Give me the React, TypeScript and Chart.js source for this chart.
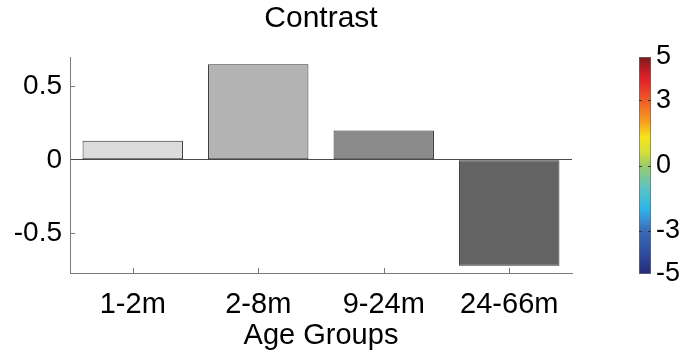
import React, { useEffect, useRef } from "react";
import { Chart, registerables } from "chart.js";

Chart.register(...registerables);

// Bar data
const ageGroups = ["1-2m", "2-8m", "9-24m", "24-66m"];
const contrastValues = [0.13, 0.65, 0.2, -0.72];
const barColors = ["#dcdcdc", "#b3b3b3", "#8a8a8a", "#636363"];

// Value axis
const yTicks = [-0.5, 0, 0.5];
const yMin = -0.77;
const yMax = 0.7;

// Colour scale
const colorbarTicks = [-5, -3, 0, 3, 5];
const colorbarMin = -5;
const colorbarMax = 5;
const jetStops: [number, string][] = [
  [-5, "#252a7a"],
  [-4, "#2e4e9e"],
  [-3, "#3a6cb8"],
  [-2.5, "#3b8fd2"],
  [-2, "#2db6e8"],
  [-1, "#5cc4c0"],
  [0, "#9ccb6a"],
  [0.6, "#d4df3a"],
  [1.3, "#f6e51b"],
  [2, "#f7a01e"],
  [3, "#ef5b25"],
  [4, "#e1202a"],
  [4.5, "#b51d22"],
  [5, "#7a1a1a"],
];

const FONT = "'Liberation Sans', Arial, Helvetica, sans-serif";
const AXIS_GRAY = "#7a7a7a";
const ZERO_LINE = "#4a4a4a";

// Short tick marks pointing into the plot area
const inwardTicks = {
  id: "inwardTicks",
  afterDraw(chart: any) {
    const { ctx, chartArea, scales } = chart;
    ctx.save();
    ctx.strokeStyle = AXIS_GRAY;
    ctx.lineWidth = 1;
    ctx.beginPath();
    scales.y.ticks.forEach((t: any) => {
      if (t.value === 0) return;
      const y = Math.round(scales.y.getPixelForValue(t.value)) + 0.5;
      ctx.moveTo(chartArea.left, y);
      ctx.lineTo(chartArea.left + 5, y);
    });
    ageGroups.forEach((_, i) => {
      const x = Math.round(scales.x.getPixelForValue(i)) + 0.5;
      ctx.moveTo(x, chartArea.bottom);
      ctx.lineTo(x, chartArea.bottom - 5);
    });
    ctx.stroke();
    ctx.restore();
  },
};

// Tick marks on both inner edges of the colour bar
const colorbarTickMarks = {
  id: "colorbarTickMarks",
  afterDraw(chart: any) {
    const { ctx, chartArea, scales } = chart;
    ctx.save();
    ctx.strokeStyle = "#333";
    ctx.lineWidth = 1;
    ctx.beginPath();
    colorbarTicks.forEach((v) => {
      if (v === colorbarMin || v === colorbarMax) return;
      const y = Math.round(scales.y.getPixelForValue(v)) + 0.5;
      ctx.moveTo(chartArea.left, y);
      ctx.lineTo(chartArea.left + 3, y);
      ctx.moveTo(chartArea.right - 3, y);
      ctx.lineTo(chartArea.right, y);
    });
    ctx.stroke();
    ctx.restore();
  },
};

export default function App() {
  const mainRef = useRef<HTMLCanvasElement | null>(null);
  const barRef = useRef<HTMLCanvasElement | null>(null);

  useEffect(() => {
    if (!mainRef.current || !barRef.current) return;

    const main = new Chart(mainRef.current, {
      type: "bar",
      data: {
        labels: ageGroups,
        datasets: [
          {
            data: contrastValues,
            backgroundColor: barColors,
            borderColor: "#2e2e2e",
            borderWidth: 1,
            borderSkipped: false,
            barPercentage: 0.8,
            categoryPercentage: 1,
          },
        ],
      },
      options: {
        responsive: false,
        animation: false,
        layout: { padding: { left: 0, right: 111, top: 4, bottom: 0 } },
        plugins: {
          legend: { display: false },
          tooltip: { enabled: false },
          title: {
            display: true,
            text: "Contrast",
            fullSize: false,
            color: "#000",
            font: { family: FONT, size: 30, weight: "normal", lineHeight: 1 },
            padding: { top: 0, bottom: 23 },
          },
        },
        scales: {
          x: {
            type: "category",
            offset: true,
            grid: { display: false },
            border: { display: true, color: AXIS_GRAY, width: 1 },
            ticks: {
              color: "#000",
              font: { family: FONT, size: 29 },
              padding: 7,
              maxRotation: 0,
              autoSkip: false,
            },
            title: {
              display: true,
              text: "Age Groups",
              color: "#000",
              font: { family: FONT, size: 29, lineHeight: 1 },
              padding: 0,
            },
            afterFit: (s: any) => {
              s.height = 77;
            },
          },
          y: {
            min: yMin,
            max: yMax,
            afterBuildTicks: (s: any) => {
              s.ticks = yTicks.map((v) => ({ value: v }));
            },
            grid: {
              drawTicks: false,
              color: (c: any) =>
                c.tick && c.tick.value === 0 ? ZERO_LINE : "rgba(0,0,0,0)",
              lineWidth: 1,
            },
            border: { display: true, color: AXIS_GRAY, width: 1 },
            ticks: {
              color: "#000",
              font: { family: FONT, size: 28 },
              padding: 8,
              callback: (v: any) => String(v),
            },
            afterFit: (s: any) => {
              s.width = 70;
            },
          },
        },
      },
      plugins: [inwardTicks],
    });

    const bar = new Chart(barRef.current, {
      type: "bar",
      data: {
        labels: ["scale"],
        datasets: [
          {
            data: [[colorbarMin, colorbarMax]] as any,
            backgroundColor: (c: any) => {
              const chart = c.chart;
              if (!chart.chartArea) return jetStops[0][1];
              const ys = chart.scales.y;
              const top = ys.getPixelForValue(colorbarMax);
              const bot = ys.getPixelForValue(colorbarMin);
              const g = chart.ctx.createLinearGradient(0, bot, 0, top);
              jetStops.forEach(([v, col]) =>
                g.addColorStop((v - colorbarMin) / (colorbarMax - colorbarMin), col)
              );
              return g;
            },
            borderColor: "#6a6a6a",
            borderWidth: 1,
            borderSkipped: false,
            barPercentage: 1,
            categoryPercentage: 1,
          },
        ],
      },
      options: {
        responsive: false,
        animation: false,
        layout: { padding: { left: 39, right: 0, top: 57, bottom: 76 } },
        plugins: {
          legend: { display: false },
          tooltip: { enabled: false },
        },
        scales: {
          x: { display: false },
          y: {
            position: "right",
            min: colorbarMin,
            max: colorbarMax,
            afterBuildTicks: (s: any) => {
              s.ticks = colorbarTicks.map((v) => ({ value: v }));
            },
            grid: { display: false, drawTicks: false },
            border: { display: false },
            ticks: {
              color: "#000",
              font: { family: FONT, size: 27 },
              padding: 5,
              callback: (v: any) => String(v),
            },
            afterFit: (s: any) => {
              s.width = 32;
            },
          },
        },
      },
      plugins: [colorbarTickMarks],
    });

    return () => {
      main.destroy();
      bar.destroy();
    };
  }, []);

  return (
    <div
      style={{
        position: "fixed",
        left: 0,
        top: 0,
        width: 683,
        height: 350,
        background: "#fff",
        overflow: "hidden",
      }}
    >
      <canvas
        ref={mainRef}
        width={683}
        height={350}
        style={{ position: "absolute", left: 0, top: 0, width: 683, height: 350 }}
      />
      <canvas
        ref={barRef}
        width={83}
        height={350}
        style={{ position: "absolute", left: 600, top: 0, width: 83, height: 350 }}
      />
    </div>
  );
}
